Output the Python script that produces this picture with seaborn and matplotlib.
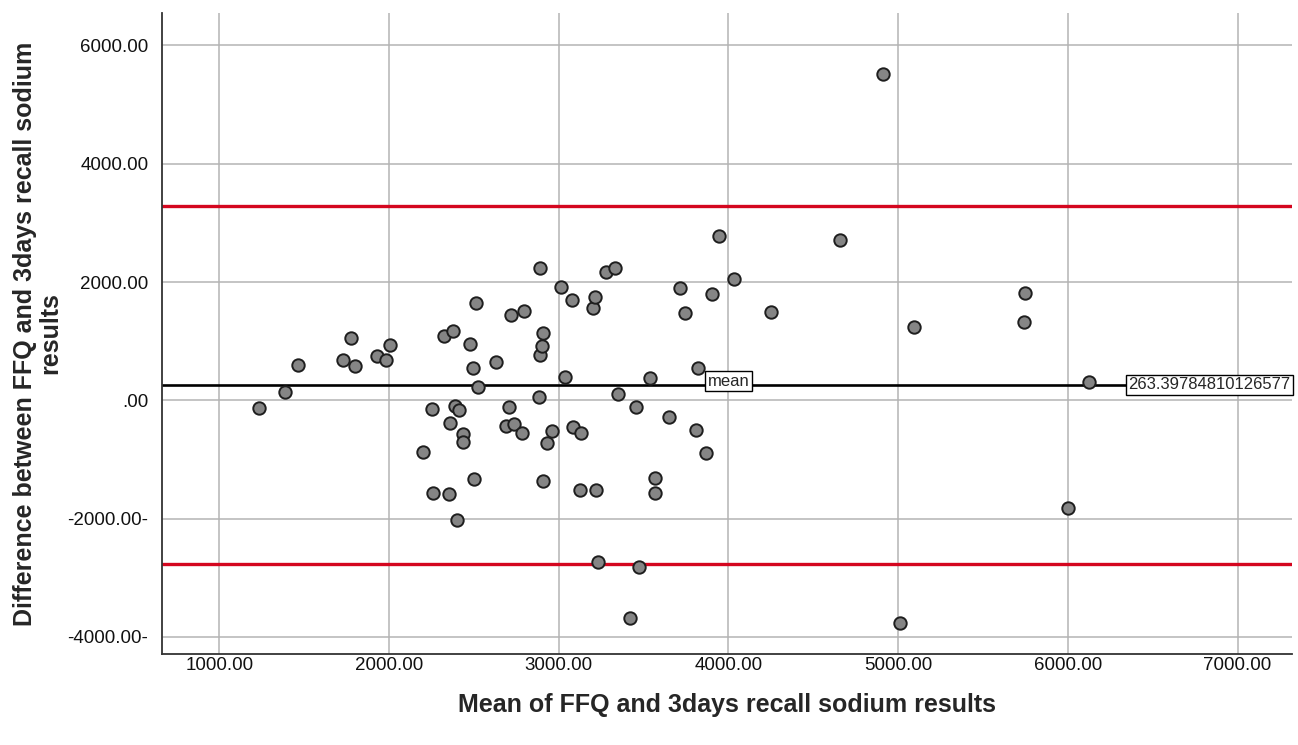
import matplotlib
matplotlib.use('Agg')

import numpy as np
import pandas as pd
import matplotlib.pyplot as plt
import seaborn as sns
from matplotlib.ticker import FuncFormatter

# Bland-Altman data: mean of the two methods vs their difference
mean_vals = [1236, 1387, 1465, 1729, 1777, 1802, 1929, 1982, 2007, 2202,
             2252, 2260, 2326, 2352, 2359, 2375, 2389, 2414, 2399, 2436,
             2436, 2477, 2494, 2501, 2513, 2523, 2629, 2687, 2708, 2719,
             2739, 2782, 2797, 2885, 2891, 2891, 2901, 2909, 2909, 2931,
             2963, 3012, 3037, 3078, 3086, 3125, 3129, 3201, 3216, 3218,
             3234, 3277, 3332, 3351, 3422, 3457, 3475, 3540, 3567, 3567,
             3648, 3714, 3744, 3810, 3819, 3867, 3904, 3945, 4034, 4248,
             4655, 4908, 5013, 5096, 5748, 5741, 5999, 6123]
diff_vals = [-135, 135, 597, 686, 1058, 585, 754, 686, 935, -879,
             -152, -1562, 1087, -1579, -379, 1171, -91, -159, -2023, -575,
             -710, 957, 551, -1335, 1650, 230, 652, -429, -118, 1447,
             -401, -548, 1504, 56, 2231, 761, 918, 1137, -1359, -722,
             -524, 1915, 399, 1690, -456, -1516, -548, 1565, 1746, -1516,
             -2728, 2163, 2231, 106, -3674, -108, -2822, 377, -1313, -1562,
             -277, 1898, 1475, -507, 546, -896, 1802, 2772, 2045, 1492,
             2709, 5510, -3764, 1244, 1808, 1328, -1825, 314]

mean_diff = 263.39784810126577
upper_loa = 3289
lower_loa = -2763

x_ticks = [1000, 2000, 3000, 4000, 5000, 6000, 7000]
y_ticks = [-4000, -2000, 0, 2000, 4000, 6000]

df = pd.DataFrame({'mean': mean_vals, 'diff': diff_vals})

sns.set_style('white')
plt.rcParams['font.family'] = ['Liberation Sans', 'DejaVu Sans']

fig = plt.figure(figsize=(12.98, 7.45), dpi=100)
ax = fig.add_axes([0.125, 0.1221, 0.8704, 0.8604])

ax.set_xlim(664, 7321)
ax.set_ylim(-4288, 6546)
ax.set_xticks(x_ticks)
ax.set_yticks(y_ticks)
ax.grid(True, color='#b4b4b4', linewidth=1.1, zorder=0)
ax.set_axisbelow(True)

ax.axhline(upper_loa, color='#d4061f', linewidth=2.4, zorder=2)
ax.axhline(lower_loa, color='#d4061f', linewidth=2.4, zorder=2)
ax.axhline(mean_diff, color='black', linewidth=1.9, zorder=2)

sns.scatterplot(data=df, x='mean', y='diff', ax=ax, s=80, color='#858585',
                edgecolor='#1e1e1e', linewidth=1.4, zorder=3, legend=False)

box = dict(boxstyle='square,pad=0.15', facecolor='white', edgecolor='black', linewidth=1)
ax.text(4000, mean_diff + 60, 'mean', fontsize=12, ha='center', va='center',
        bbox=box, zorder=4)
ax.text(7310, mean_diff, f'{mean_diff}', fontsize=12, ha='right', va='center',
        bbox=box, zorder=4)


def fmt_y(v, pos):
    s = f'{v:.2f}'
    if v == 0:
        return '.00'
    if v < 0:
        return s + '-'
    return s


ax.yaxis.set_major_formatter(FuncFormatter(fmt_y))
ax.xaxis.set_major_formatter(FuncFormatter(lambda v, p: f'{v:.2f}'))
ax.tick_params(axis='both', length=0, labelsize=13.5, colors='#111111')
ax.tick_params(axis='x', pad=2)
ax.tick_params(axis='y', pad=10)

for side in ['top', 'right']:
    ax.spines[side].set_visible(False)
for side in ['left', 'bottom']:
    ax.spines[side].set_color('#333333')
    ax.spines[side].set_linewidth(1.3)

ax.set_xlabel('Mean of FFQ and 3days recall sodium results', fontsize=18,
              fontweight='bold', labelpad=14)
ax.set_ylabel('Difference between FFQ and 3days recall sodium\nresults',
              fontsize=18, fontweight='bold', labelpad=4, linespacing=1.05)

plt.savefig('out.png', dpi=100)
plt.close()
